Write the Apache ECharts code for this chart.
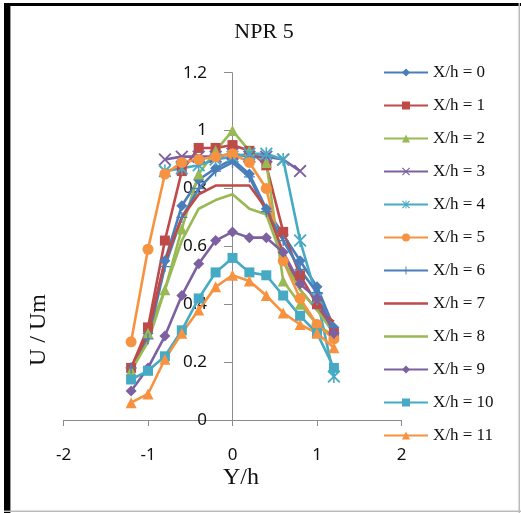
<!DOCTYPE html>
<html><head><meta charset="utf-8">
<script src="https://cdn.jsdelivr.net/npm/echarts@6/dist/echarts.min.js"></script>
<style>html,body{margin:0;padding:0;background:#fff}#c{width:521px;height:513px}</style>
</head><body><div id="c"></div>
<script>
const yPositions = [-1.2,-1.0,-0.8,-0.6,-0.4,-0.2,0,0.2,0.4,0.6,0.8,1.0,1.2];
const seriesNames = ["X/h = 0","X/h = 1","X/h = 2","X/h = 3","X/h = 4","X/h = 5","X/h = 6","X/h = 7","X/h = 8","X/h = 9","X/h = 10","X/h = 11"];
const s0  = [0.18,0.30,0.55,0.74,0.83,0.87,0.90,0.85,0.73,0.64,0.55,0.46,0.32];
const s1  = [0.18,0.32,0.62,0.86,0.94,0.94,0.95,0.93,0.88,0.65,0.50,0.40,0.30];
const s2  = [0.17,0.30,0.45,0.66,0.85,0.93,1.00,0.93,0.89,0.48,0.40,0.33,0.29];
const s3  = [null,null,0.90,0.91,0.91,0.91,0.92,0.91,0.91,0.90,0.86,null,null];
const s4  = [null,null,0.86,0.87,0.88,0.90,0.91,0.92,0.92,0.90,0.62,0.42,0.15];
const s5  = [0.27,0.59,0.85,0.89,0.90,0.91,0.92,0.89,0.80,0.55,0.42,0.33,0.28];
const s6  = [0.18,0.28,0.53,0.70,0.80,0.86,0.89,0.84,0.72,0.62,0.52,0.44,0.30];
const s7  = [0.18,0.30,0.55,0.70,0.78,0.81,0.81,0.81,0.73,0.58,0.45,0.38,0.34];
const s8  = [0.17,0.27,0.45,0.62,0.73,0.76,0.78,0.73,0.71,0.55,0.45,0.38,0.30];
const s9  = [0.10,0.18,0.29,0.43,0.54,0.62,0.65,0.63,0.63,0.58,0.47,0.42,0.30];
const s10 = [0.14,0.17,0.22,0.31,0.42,0.51,0.56,0.51,0.50,0.43,0.36,0.30,0.18];
const s11 = [0.06,0.09,0.21,0.30,0.38,0.46,0.50,0.48,0.43,0.37,0.33,0.30,0.25];
const xTicks = [-2,-1,0,1,2];
const yTicks = [0,0.2,0.4,0.6,0.8,1,1.2];

const allValues = [s0,s1,s2,s3,s4,s5,s6,s7,s8,s9,s10,s11];
const BLUE='#4A7EBB', RED='#BE4B48', GREEN='#98B954', PURPLE='#7D60A0', CYAN='#46AAC5', ORANGE='#F69240';
const X_PATH='path://M0,1 L1,0 L10,9 L9,10 Z M9,0 L10,1 L1,10 L0,9 Z';
const STAR_PATH='path://M0,1 L1,0 L10,9 L9,10 Z M9,0 L10,1 L1,10 L0,9 Z M4.4,0 L5.6,0 L5.6,10 L4.4,10 Z';
const PLUS_PATH='path://M4.4,0 L5.6,0 L5.6,10 L4.4,10 Z M0,4.4 L10,4.4 L10,5.6 L0,5.6 Z';
const LINE_ICON='path://M0,0 L0.01,0 L0,0.01 Z M44,10 L43.99,10 L44,9.99 Z M0,3.7 L44,3.7 L44,6.3 L0,6.3 Z';
const styles = [
  {c:BLUE, s:'diamond', z:11},
  {c:RED, s:'rect', z:10},
  {c:GREEN, s:'triangle', z:11},
  {c:PURPLE, s:X_PATH, z:13},
  {c:CYAN, s:STAR_PATH, z:13},
  {c:ORANGE, s:'circle', z:11},
  {c:BLUE, s:PLUS_PATH, z:11},
  {c:RED, s:'none', z:0},
  {c:GREEN, s:'none', z:0},
  {c:PURPLE, s:'diamond', z:11},
  {c:CYAN, s:'rect', z:10},
  {c:ORANGE, s:'triangle', z:11}
];

const series = allValues.map((vals,i)=>({
  name: seriesNames[i],
  type:'line',
  data: yPositions.map((p,k)=>[p, vals[k]]),
  symbol: styles[i].s,
  symbolSize: styles[i].z,
  showSymbol: styles[i].s !== 'none',
  lineStyle:{color:styles[i].c, width:2.6},
  itemStyle:{color:styles[i].c, borderWidth:0},
  emphasis:{disabled:true},
  animation:false
}));

const legendData = seriesNames.map((n,i)=> styles[i].s === 'none' ? {name:n, icon:LINE_ICON} : {name:n});

const chart = echarts.init(document.getElementById('c'), null, {renderer:'canvas'});
chart.setOption({
  backgroundColor:'#ffffff',
  animation:false,
  grid:{left:63.5, right:119.5, top:72.7, bottom:93, containLabel:false},
  xAxis:{type:'value', min:xTicks[0], max:xTicks[xTicks.length-1], interval:1,
    axisLine:{lineStyle:{color:'#8C8C8C', width:1}},
    axisTick:{length:6, lineStyle:{color:'#8C8C8C'}},
    axisLabel:{fontFamily:'Noto Sans', fontSize:17, color:'#111', margin:27},
    splitLine:{show:false}},
  yAxis:{type:'value', min:yTicks[0], max:yTicks[yTicks.length-1], interval:0.2,
    offset:-168.5,
    axisLine:{show:true, onZero:false, lineStyle:{color:'#8C8C8C', width:1}},
    axisTick:{show:true, length:8, lineStyle:{color:'#8C8C8C'}},
    axisLabel:{fontFamily:'Noto Sans', fontSize:17, color:'#111', margin:25,
      formatter:v=>String(Math.round(v*10)/10)},
    splitLine:{show:false}},
  legend:{orient:'vertical', left:383, top:62.5, padding:0, itemWidth:44, itemHeight:10, itemGap:13,
    textStyle:{fontFamily:'Liberation Serif', fontSize:17, color:'#111', lineHeight:20},
    data: legendData},
  graphic:[
    {type:'rect', shape:{x:4, y:3, width:6, height:510}, style:{fill:'#000'}, silent:true},
    {type:'rect', shape:{x:4, y:3, width:517, height:3}, style:{fill:'#000'}, silent:true},
    {type:'rect', shape:{x:10, y:6, width:1, height:507}, style:{fill:'#999'}, silent:true},
    {type:'rect', shape:{x:4, y:510.5, width:517, height:1.5}, style:{fill:'#BBB'}, silent:true},
    {type:'rect', shape:{x:518.5, y:3, width:1.5, height:510}, style:{fill:'#BBB'}, silent:true},
    {type:'text', x:264, y:32, style:{text:'NPR 5', font:'22px "Liberation Serif"', fill:'#111', align:'center', verticalAlign:'middle'}, silent:true},
    {type:'text', x:241, y:478, style:{text:'Y/h', font:'24px "Liberation Serif"', fill:'#111', align:'center', verticalAlign:'middle'}, silent:true},
    {type:'text', x:39, y:330, rotation:Math.PI/2, style:{text:'U / Um', font:'24px "Liberation Serif"', fill:'#111', align:'center', verticalAlign:'middle'}, silent:true}
  ],
  series: series
});
</script></body></html>
